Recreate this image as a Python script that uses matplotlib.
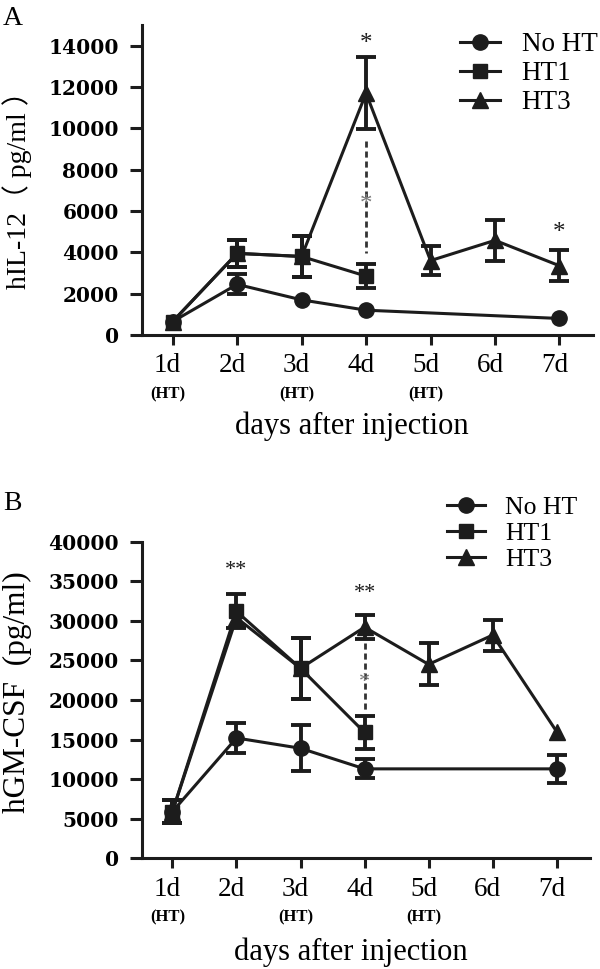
"""
Recreation of a two-panel cytokine time-course figure
(hIL-12 and hGM-CSF after injection, No HT vs HT1 vs HT3).
"""

import matplotlib
matplotlib.use('Agg')
import matplotlib.pyplot as plt
from matplotlib.lines import Line2D
from matplotlib.transforms import ScaledTranslation

plt.rcParams['font.family'] = ['Liberation Serif', 'Noto Sans CJK SC']

# ---------------------------------------------------------
# Data
# ---------------------------------------------------------
day_ticks = [1, 2, 3, 4, 5, 6, 7]
day_labels = ['1d', '2d', '3d', '4d', '5d', '6d', '7d']
ht_days = [1, 3, 5]

# Panel A: hIL-12 (pg/ml)
il12_noht_days = [1, 2, 3, 4, 7]
il12_noht = [650, 2450, 1700, 1200, 800]
il12_noht_err = [0, 480, 0, 0, 0]

il12_ht1_days = [1, 2, 3, 4]
il12_ht1 = [650, 3950, 3800, 2850]
il12_ht1_err = [0, 650, 1000, 580]

il12_ht3_days = [1, 2, 3, 4, 5, 6, 7]
il12_ht3 = [650, 3950, 3800, 11700, 3600, 4580, 3350]
il12_ht3_err = [0, 650, 1000, 1750, 700, 990, 760]

# Panel B: hGM-CSF (pg/ml)
gm_noht_days = [1, 2, 3, 4, 7]
gm_noht = [5900, 15200, 13900, 11300, 11300]
gm_noht_err = [1500, 1950, 2900, 1200, 1800]

gm_ht1_days = [1, 2, 3, 4]
gm_ht1 = [5900, 31200, 24000, 15900]
gm_ht1_err = [1500, 2150, 3850, 2050]

gm_ht3_days = [1, 2, 3, 4, 5, 6, 7]
gm_ht3 = [5900, 30400, 24000, 29200, 24500, 28200, 16000]
gm_ht3_err = [1500, 0, 3850, 1500, 2650, 1950, 0]

legend_labels = ['No HT', 'HT1', 'HT3']

INK = '#1c1c1c'
GREY = '#7a7a7a'
MARKERS = [('o', 11), ('s', 10), ('^', 11)]

W, H = 600, 969


def fig_rect(left, top, right, bottom):
    return [left / W, 1 - bottom / H, (right - left) / W, (bottom - top) / H]


def plot_series(ax, days, vals, errs, marker, ms):
    ax.plot(days, vals, color=INK, lw=2.2, marker=marker, ms=ms,
            mec=INK, mfc=INK, zorder=4, clip_on=False)
    ed = [d for d, e in zip(days, errs) if e > 0]
    ev = [v for v, e in zip(vals, errs) if e > 0]
    ee = [e for e in errs if e > 0]
    ax.errorbar(ed, ev, yerr=ee, fmt='none', ecolor=INK, elinewidth=2.8,
                capsize=7, capthick=2.8, zorder=3)


def style_axes(ax, ytop, yticks):
    ax.set_xlim(0.52, 7.52)
    ax.set_ylim(0, ytop)
    ax.set_yticks(yticks)
    ax.set_yticklabels([str(v) for v in yticks])
    ax.set_xticks(day_ticks)
    ax.set_xticklabels(day_labels)
    for s in ['top', 'right']:
        ax.spines[s].set_visible(False)
    for s in ['left', 'bottom']:
        ax.spines[s].set_linewidth(2.2)
        ax.spines[s].set_color(INK)
    ax.tick_params(axis='y', length=8.6, width=2.2, pad=8, color=INK)
    ax.tick_params(axis='x', length=7.2, width=2.2, pad=6, color=INK,
                   labelsize=19.5)
    for lab in ax.get_yticklabels():
        lab.set_family('DejaVu Serif')
        lab.set_weight('bold')
        lab.set_fontsize(14.5)
    shift = ScaledTranslation(-5 / 100, 0, ax.figure.dpi_scale_trans)
    for lab in ax.get_xticklabels():
        lab.set_transform(lab.get_transform() + shift)
    for d in ht_days:
        ax.annotate('(HT)', xy=(d, 0), xycoords=('data', 'axes fraction'),
                    xytext=(-3.6, -42.5), textcoords='offset points',
                    ha='center', va='center', fontsize=12, fontweight='bold')


def star(ax, x, y, text, color=INK, size=18):
    ax.text(x, y, text, ha='center', va='center', fontsize=size,
            color=color, zorder=5)


def add_legend(ax, x_left, y_top, fontsize, spacing):
    handles = [Line2D([], [], color=INK, lw=2.2, marker=m, ms=ms,
                      mfc=INK, mec=INK) for m, ms in MARKERS]
    ax.legend(handles, legend_labels, loc='upper left',
              bbox_to_anchor=(x_left / W, 1 - y_top / H),
              bbox_transform=ax.figure.transFigure, frameon=False,
              fontsize=fontsize, handlelength=1.48, handletextpad=0.8,
              labelspacing=spacing, borderpad=0, borderaxespad=0)


fig = plt.figure(figsize=(6, 9.69), dpi=100)

# =========================================================
# Panel A
# =========================================================
axA = fig.add_axes(fig_rect(141.7, 25, 593, 335))
plot_series(axA, il12_noht_days, il12_noht, il12_noht_err, *MARKERS[0])
plot_series(axA, il12_ht1_days, il12_ht1, il12_ht1_err, *MARKERS[1])
plot_series(axA, il12_ht3_days, il12_ht3, il12_ht3_err, *MARKERS[2])
style_axes(axA, 15000, list(range(0, 14001, 2000)))
axA.plot([4, 4], [9400, 3950], color='#333333', lw=2.0,
         dashes=[2.2, 1.4], zorder=2)
star(axA, 4, 14100, '*')
star(axA, 4, 6300, '*', color=GREY)
star(axA, 7, 4950, '*')
axA.annotate('days after injection', xy=(0.466, 0), xycoords='axes fraction',
             xytext=(0, -65.5), textcoords='offset points',
             ha='center', va='center', fontsize=22)
add_legend(axA, 460, 32, 19.5, 0.15)
fig.text(17 / W, 1 - 183 / H, 'hIL-12（ pg/ml ）', rotation=90,
         ha='center', va='center', fontsize=20)
fig.text(3 / W, 1 - 25 / H, 'A', fontsize=20, va='baseline')

# =========================================================
# Panel B
# =========================================================
axB = fig.add_axes(fig_rect(141.7, 541.7, 590, 858.3))
plot_series(axB, gm_noht_days, gm_noht, gm_noht_err, *MARKERS[0])
plot_series(axB, gm_ht1_days, gm_ht1, gm_ht1_err, *MARKERS[1])
plot_series(axB, gm_ht3_days, gm_ht3, gm_ht3_err, *MARKERS[2])
style_axes(axB, 40000, list(range(0, 40001, 5000)))
axB.plot([4, 4], [27200, 18500], color='#333333', lw=2.0,
         dashes=[2.2, 1.4], zorder=2)
star(axB, 2, 36300, '**', size=16)
star(axB, 4, 33400, '**', size=16)
star(axB, 4, 22200, '*', color=GREY, size=16)
axB.annotate('days after injection', xy=(0.466, 0), xycoords='axes fraction',
             xytext=(0, -67.7), textcoords='offset points',
             ha='center', va='center', fontsize=22)
add_legend(axB, 446.7, 496, 18.5, 0.12)
fig.text(17 / W, 1 - 692 / H, 'hGM-CSF  (pg/ml)', rotation=90,
         ha='center', va='center', fontsize=22.5)
fig.text(3 / W, 1 - 510 / H, 'B', fontsize=20, va='baseline')

fig.savefig('out.png', dpi=100)
